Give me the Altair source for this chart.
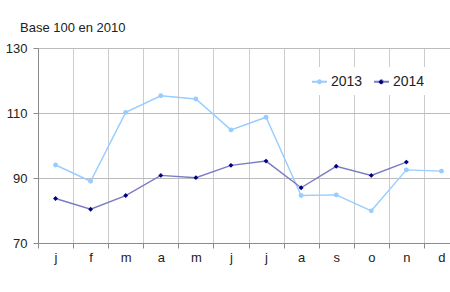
import json
import altair as alt
import pandas as pd

months = list(range(1, 13))
month_labels = ["j", "f", "m", "a", "m", "j", "j", "a", "s", "o", "n", "d"]
years = ["2013", "2014"]
values_2013 = [94.0, 89.0, 110.2, 115.3, 114.3, 104.8, 108.7, 84.6, 84.8, 79.9, 92.5, 92.1]
values_2014 = [83.7, 80.4, 84.6, 90.8, 90.1, 93.9, 95.2, 87.0, 93.6, 90.8, 94.9]
line_colors = ["#99CCFF", "#7B7BC2"]
point_colors = ["#99CCFF", "#000080"]
point_shapes = ["circle", "diamond"]

rows = []
for m, v in zip(months, values_2013):
    rows.append({"month": m, "year": "2013", "value": v})
for m, v in zip(months, values_2014):
    rows.append({"month": m, "year": "2014", "value": v})
df = pd.DataFrame(rows)

FONT = "Liberation Sans"
label_expr = json.dumps(month_labels) + "[datum.value - 1]"

x_enc = alt.X(
    "month:O",
    scale=alt.Scale(range=[0, 421], paddingInner=0, paddingOuter=0),
    axis=alt.Axis(
        title=None,
        labelExpr=label_expr,
        labelAngle=0,
        tickBand="extent",
        grid=True,
        gridColor="#CCCCCC",
        domainColor="#8C8C8C",
        tickColor="#8C8C8C",
        tickSize=5,
        labelPadding=3,
        labelFontSize=13,
        labelFont=FONT,
        labelColor="#222222",
    ),
)
y_enc = alt.Y(
    "value:Q",
    scale=alt.Scale(domain=[70, 130], nice=False, zero=False),
    axis=alt.Axis(
        title=None,
        values=[70, 90, 110, 130],
        grid=True,
        gridColor="#BBBBBB",
        domainColor="#8C8C8C",
        tickColor="#8C8C8C",
        tickSize=5,
        labelPadding=6,
        labelFontSize=13,
        labelFont=FONT,
        labelColor="#222222",
    ),
)

legend_symbol = (
    "M-1,0L1,0"
    "M-0.2,0a0.2,0.2 0 1,0 0.4,0a0.2,0.2 0 1,0 -0.4,0Z"
)

LEG_X = 267
LEG_Y = 19
LEG_PAD = 6

lines = alt.Chart(df).mark_line(strokeWidth=1.4).encode(
    x=x_enc,
    y=y_enc,
    color=alt.Color(
        "year:N",
        scale=alt.Scale(domain=years, range=line_colors),
        legend=alt.Legend(
            title=None,
            orient="none",
            legendX=LEG_X,
            legendY=LEG_Y,
            direction="horizontal",
            fillColor="white",
            padding=LEG_PAD,
            symbolType=legend_symbol,
            symbolSize=225,
            symbolStrokeWidth=1.8,
            labelFontSize=14,
            labelFont=FONT,
            labelColor="#222222",
            labelOffset=3,
            columnPadding=7,
            zindex=1,
        ),
    ),
)

points_2013 = (
    alt.Chart(df)
    .transform_filter(alt.datum.year == years[0])
    .mark_point(filled=True, opacity=1, shape=point_shapes[0], color=point_colors[0], size=24)
    .encode(x=alt.X("month:O"), y=alt.Y("value:Q"))
)

points_2014 = (
    alt.Chart(df)
    .transform_filter(alt.datum.year == years[1])
    .mark_point(filled=True, opacity=1, shape=point_shapes[1], size=24, strokeWidth=0)
    .encode(
        x=alt.X("month:O"),
        y=alt.Y("value:Q"),
        fill=alt.Fill(
            "year:N",
            scale=alt.Scale(domain=[years[1]], range=[point_colors[1]]),
            legend=alt.Legend(
                title=None,
                orient="none",
                legendX=336,
                legendY=LEG_Y + LEG_PAD + 2,
                padding=0,
                symbolType=point_shapes[1],
                symbolSize=26,
                symbolStrokeWidth=0,
                labelFontSize=14,
                labelFont=FONT,
                labelExpr="''",
                labelOffset=0,
                zindex=2,
            ),
        ),
    )
)

chart = (
    alt.layer(lines, points_2013, points_2014)
    .properties(
        width=412,
        height=195,
        title=alt.TitleParams(
            "Base 100 en 2010",
            anchor="start",
            frame="group",
            dx=-18,
            dy=22,
            offset=19,
            baseline="alphabetic",
            fontSize=13,
            font=FONT,
            fontWeight="normal",
            color="#222222",
        ),
        autosize=alt.AutoSizeParams(type="none"),
        padding={"left": 38, "top": 48, "right": 0, "bottom": 49},
    )
    .configure_view(stroke=None)
    .configure(background="white")
)

chart.save("out.html", embed_options={"renderer": "svg", "actions": False})
